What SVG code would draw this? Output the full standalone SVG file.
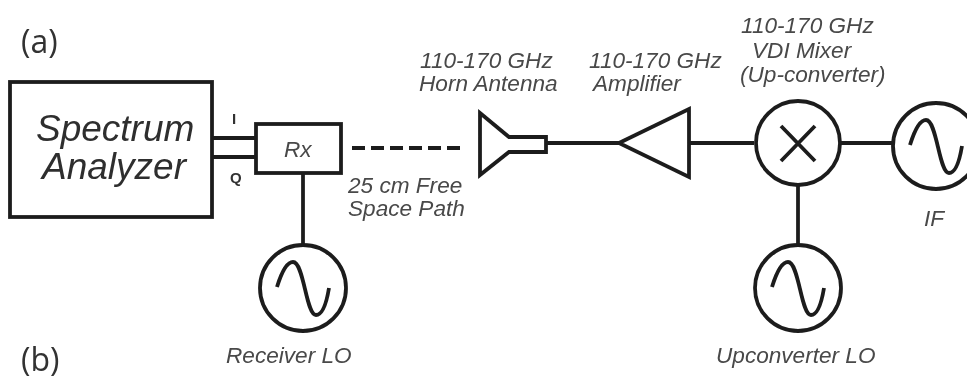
<svg xmlns="http://www.w3.org/2000/svg" width="967" height="381" viewBox="0 0 967 381">
<defs>
<filter id="soft" x="-5%" y="-5%" width="110%" height="110%"><feGaussianBlur stdDeviation="0.6"/></filter>
<path id="sine" d="M-26 -1 C-22 -14 -17 -26 -10 -26 C1 -26 3 27 13 27 C20 27 24 12 26 0"/>
</defs>
<style>
.s{fill:none;stroke:#1c1c1c;stroke-width:3.8}
.l{font-family:"Liberation Sans",Arial,sans-serif;font-style:italic;font-size:22.6px;fill:#484848}
.big{font-size:37px;fill:#2f2f2f}
.p{font-family:"Open Sans",sans-serif;font-size:32px;fill:#333}
.b{font-family:"Liberation Sans",Arial,sans-serif;font-weight:bold;font-size:15px;fill:#333}
</style>
<rect width="967" height="381" fill="#fff"/>
<g filter="url(#soft)">
<text class="p" x="21" y="53">(a)</text>
<text class="p" x="21" y="371">(b)</text>
<g id="connectors" class="s">
<path d="M212 138H256M212 157H256"/>
<path d="M303 173V245"/>
<path d="M352 148H460" stroke-dasharray="13 6"/>
<path d="M546 143H619"/>
<path d="M689 143H754"/>
<path d="M841 143H892"/>
<path d="M798 185V245"/>
</g>
<g id="spectrum-analyzer">
<rect class="s" x="10" y="82" width="202" height="135"/>
<text class="l big" x="36" y="141">Spectrum</text>
<text class="l big" x="42" y="179">Analyzer</text>
</g>
<text class="b" x="232" y="124">I</text>
<text class="b" x="230" y="183">Q</text>
<g id="rx">
<rect class="s" x="256" y="124" width="85" height="49"/>
<text class="l" x="284" y="157">Rx</text>
</g>
<g id="receiver-lo">
<circle class="s" cx="303" cy="288" r="43"/>
<use href="#sine" class="s" x="303" y="288"/>
<text class="l" x="226" y="363">Receiver LO</text>
</g>
<text class="l" x="348" y="193">25 cm Free</text>
<text class="l" x="348" y="216">Space Path</text>
<g id="horn">
<path class="s" d="M480 113L509 137H546V152H509L480 175Z"/>
<text class="l" x="420" y="68">110-170 GHz</text>
<text class="l" x="419" y="91">Horn Antenna</text>
</g>
<g id="amplifier">
<path class="s" d="M619 143L689 109V177Z"/>
<text class="l" x="589" y="68">110-170 GHz</text>
<text class="l" x="593" y="91">Amplifier</text>
</g>
<g id="mixer">
<circle class="s" cx="798" cy="143" r="42"/>
<path class="s" d="M781 126L815 161M815 126L781 161"/>
<text class="l" x="741" y="33">110-170 GHz</text>
<text class="l" x="752" y="58">VDI Mixer</text>
<text class="l" x="740" y="82">(Up-converter)</text>
</g>
<g id="if">
<circle class="s" cx="936" cy="146" r="43"/>
<use href="#sine" class="s" x="936" y="146"/>
<text class="l" x="924" y="226">IF</text>
</g>
<g id="upconverter-lo">
<circle class="s" cx="798" cy="288" r="43"/>
<use href="#sine" class="s" x="798" y="288"/>
<text class="l" x="716" y="363">Upconverter LO</text>
</g>
</g>
</svg>
